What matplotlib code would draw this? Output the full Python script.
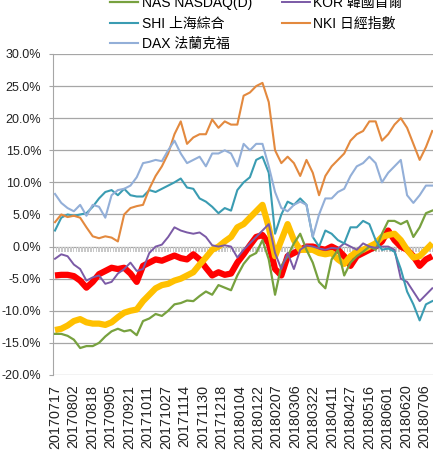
import matplotlib
matplotlib.use("Agg")
import matplotlib.pyplot as plt
from matplotlib.ticker import FuncFormatter

plt.rcParams['font.family'] = ['Liberation Sans', 'Noto Sans CJK TC', 'DejaVu Sans']

# tick labels on the date axis (one every 12 trading days)
date_labels = ['20170717', '20170802', '20170818', '20170905', '20170921', '20171011',
               '20171027', '20171114', '20171130', '20171218', '20180104', '20180122',
               '20180207', '20180306', '20180322', '20180411', '20180427', '20180516',
               '20180601', '20180620', '20180706']

# cumulative change in % at 61 evenly spaced points
nas = [-13.6, -13.6, -13.9, -14.5, -15.8, -15.5, -15.5, -15.0, -14.0, -13.2, -12.8, -13.2, -13.0,
       -13.8, -11.6, -11.2, -10.5, -10.8, -10.0, -9.0, -8.8, -8.4, -8.5, -7.7, -7.0, -7.5, -6.0,
       -6.4, -6.8, -4.5, -2.7, -1.5, -1.0, 1.0, -2.0, -7.5, -3.0, -1.5, 0.5, 2.0, -0.5, -2.5,
       -5.5, -6.5, -2.0, -0.5, -4.5, -2.5, -1.5, -0.8, 0.0, -0.5, 2.0, 4.0, 4.0, 3.5, 4.0, 1.5,
       3.0, 5.2, 5.6]
kor = [-1.9, -1.2, -1.5, -2.8, -3.5, -5.3, -4.8, -4.5, -5.8, -5.5, -4.2, -3.5, -2.5, -3.8, -3.5,
       -1.0, 0.0, 0.3, 1.5, 3.0, 2.5, 2.2, 2.0, 2.2, 1.5, 0.2, 0.0, 0.2, 0.0, -1.7, -0.5, 0.5,
       1.5, 2.5, 3.5, -1.0, -3.5, -1.0, -3.5, -0.5, 0.2, 0.0, -0.3, -0.5, -0.2, -0.3, 0.5, 0.0,
       -0.5, 0.5, 0.0, -0.2, 0.0, 0.0, -0.5, -5.0, -5.5, -7.0, -8.5, -7.5, -6.5]
shi = [2.5, 4.5, 5.0, 4.8, 5.0, 5.2, 6.2, 7.5, 8.5, 8.8, 8.0, 9.0, 8.0, 7.8, 7.8, 8.8, 8.5, 9.0,
       9.5, 10.0, 10.6, 9.2, 9.0, 7.5, 7.0, 6.2, 5.2, 6.0, 5.6, 8.8, 10.0, 10.8, 13.5, 14.0, 11.5,
       2.0, 5.0, 7.0, 6.5, 7.5, 6.5, 1.5, 0.0, 2.5, 2.0, 1.0, 0.5, 3.0, 3.0, 4.0, 3.5, 1.0, -0.5,
       -0.3, -0.8, -3.5, -7.0, -9.0, -11.5, -9.0, -8.5]
nki = [3.8, 5.0, 4.6, 4.8, 4.5, 3.0, 1.6, 1.3, 1.6, 1.4, 0.8, 5.0, 6.0, 6.3, 6.5, 9.0, 11.0, 12.5,
       14.5, 17.5, 19.5, 16.0, 17.0, 17.5, 17.5, 19.8, 18.5, 19.5, 19.0, 19.0, 23.5, 24.0, 25.0,
       25.5, 22.5, 15.0, 13.0, 14.0, 13.0, 11.0, 13.5, 11.5, 8.0, 11.0, 12.5, 13.5, 14.5, 16.5,
       17.5, 18.0, 19.5, 19.5, 16.5, 17.5, 19.0, 20.0, 18.5, 16.0, 13.5, 15.5, 18.0]
dax = [8.2, 6.8, 6.0, 5.5, 6.5, 4.8, 6.5, 6.2, 4.5, 8.0, 8.8, 9.0, 9.5, 10.8, 13.0, 13.2, 13.5,
       13.3, 15.0, 16.5, 14.5, 13.0, 13.5, 14.0, 12.5, 14.5, 14.5, 15.0, 14.5, 12.5, 16.0, 15.0,
       16.0, 16.0, 12.5, 8.5, 6.0, 5.5, 6.5, 7.0, 6.5, 1.5, 5.0, 7.5, 7.5, 8.5, 9.0, 11.0, 12.5,
       13.0, 14.0, 13.0, 10.0, 11.5, 12.5, 13.5, 8.0, 6.8, 8.0, 9.5, 9.5]
# two thick series whose legend entries are cut off above the picture
red_idx = [-4.5, -4.4, -4.4, -4.6, -5.3, -6.4, -5.5, -4.3, -3.8, -3.3, -3.5, -3.3, -4.2, -5.5,
           -3.0, -2.5, -2.0, -2.2, -1.8, -1.4, -1.8, -2.0, -1.2, -2.0, -3.3, -4.5, -4.0, -4.4,
           -4.2, -2.5, -1.2, 0.2, 1.5, 1.8, 0.5, -3.5, -4.5, -1.5, -1.0, -0.5, 0.0, 0.0, -0.3,
           -0.5, 0.0, -0.5, -1.5, -3.0, -1.5, -1.0, -0.5, 0.0, 0.8, 2.5, 1.0, 0.0, -0.5, -1.5,
           -3.0, -2.0, -1.5]
yel_idx = [-13.0, -12.8, -12.3, -11.6, -11.3, -11.8, -12.0, -12.0, -12.2, -11.8, -11.0, -10.3,
           -10.0, -9.8, -8.5, -7.5, -6.5, -6.0, -5.8, -5.3, -5.0, -4.5, -4.0, -2.8, -1.7, -0.5,
           0.0, 0.8, 1.5, 3.0, 3.5, 4.5, 5.5, 6.5, 3.0, -1.5, 1.0, 3.5, 1.0, -0.5, -0.5, -0.5,
           -1.0, -1.2, -1.0, -2.0, -2.7, -1.5, -0.8, -0.5, 0.0, 0.5, 1.5, 1.8, 2.0, 1.0, -0.5,
           -1.7, -1.5, -0.5, 0.5]
# small grey daily bars, all about -0.9%
gray_bars = [-0.9] * 246

LAST_DAY = 245  # trading day at the right edge of the picture
days = [k * LAST_DAY / (len(nas) - 1) for k in range(len(nas))]

fig = plt.figure(figsize=(4.33, 4.61), dpi=100)
ax = fig.add_axes([0.1224, 0.1866, 0.8776, 0.6963])

ax.bar(range(len(gray_bars)), gray_bars, width=0.6, color='#C8C8C8', zorder=2)
ax.plot(days, red_idx, color='#FF0000', lw=4.5, zorder=3, solid_capstyle='butt')
ax.plot(days, yel_idx, color='#FFC000', lw=4.5, zorder=3, solid_capstyle='butt')
l_nas, = ax.plot(days, nas, color='#77A13F', lw=1.6, zorder=4, label='NAS NASDAQ(D)')
l_kor, = ax.plot(days, kor, color='#7B5AA6', lw=1.4, zorder=4, label='KOR 韓國首爾')
l_shi, = ax.plot(days, shi, color='#3A9CB2', lw=1.5, zorder=4, label='SHI 上海綜合')
l_nki, = ax.plot(days, nki, color='#E3893E', lw=1.5, zorder=4, label='NKI 日經指數')
l_dax, = ax.plot(days, dax, color='#93AFD8', lw=1.5, zorder=4, label='DAX 法蘭克福')

ax.set_ylim(-20, 30)
ax.set_yticks(range(-20, 31, 5))
ax.yaxis.set_major_formatter(FuncFormatter(lambda v, p: f'{v:.1f}%'))
ax.set_xlim(-1.3, LAST_DAY + 0.5)
ax.set_xticks(range(0, 12 * len(date_labels), 12))
ax.set_xticklabels(date_labels, rotation=90)

ax.grid(axis='y', color='#A6A6A6', lw=0.9, zorder=1)
ax.set_axisbelow(True)
for s in ['top', 'right', 'bottom']:
    ax.spines[s].set_visible(False)
ax.spines['left'].set_color('#A6A6A6')
ax.tick_params(axis='y', length=3, color='#A6A6A6', pad=5.5, labelsize=9, labelcolor='#222222')
ax.tick_params(axis='x', length=0, pad=7, labelsize=10.4, labelcolor='#222222')

fig.legend(handles=[l_nas, l_shi, l_dax, l_kor, l_nki], ncol=2, loc='upper left',
           bbox_to_anchor=(0.255, 1.008), frameon=False, fontsize=10,
           handlelength=2.0, handletextpad=0.25, labelspacing=0.45, columnspacing=2.17,
           borderpad=0, borderaxespad=0)

fig.savefig('out.png', dpi=100)
